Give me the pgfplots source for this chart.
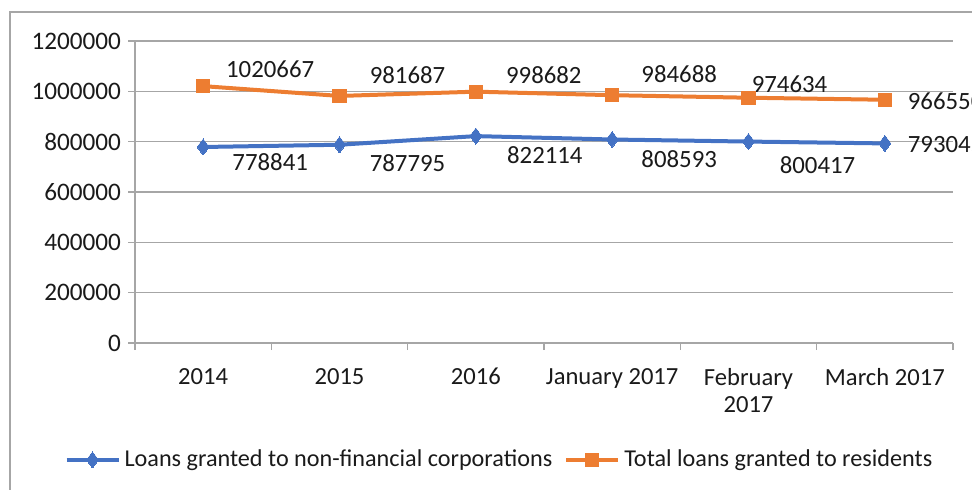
\documentclass[border=0pt]{standalone}
\usepackage{fontspec}
\setmainfont{Carlito}
\usepackage{pgfplots}
\pgfplotsset{compat=1.18}
\definecolor{xlblue}{HTML}{4472C4}
\definecolor{xlorange}{HTML}{ED7D31}
\definecolor{gridgray}{HTML}{A6A6A6}
\definecolor{txt}{HTML}{1A1A1A}

\begin{document}
\begin{tikzpicture}
\useasboundingbox (0,0) rectangle (486pt,244.5pt);
% chart frame (cut off at right and bottom like the reference)
\draw[gridgray, line width=0.8pt] (5pt,-10pt) -- (5pt,238.5pt) -- (500pt,238.5pt);
\begin{axis}[
  at={(67.5pt,73pt)}, anchor=south west,
  scale only axis,
  width=409pt, height=151pt,
  xmin=-0.5, xmax=5.5,
  ymin=0, ymax=1200000,
  xtick={0,...,5},
  xticklabels={2014,2015,2016,January 2017,{February\\2017},March 2017},
  xticklabel style={align=center, font=\fontsize{12.3}{13.5}\selectfont, text=txt, yshift=-5.5pt},
  minor xtick={-0.5,0.5,...,5.5},
  ytick={0,200000,...,1200000},
  yticklabel style={font=\fontsize{12.6}{13}\selectfont, text=txt},
  scaled y ticks=false,
  /pgf/number format/.cd, fixed, 1000 sep={}, assume math mode=true,
  /pgfplots/.cd,
  axis lines*=left,
  axis line style={gridgray, line width=0.8pt},
  tick align=outside,
  major x tick style={draw=none},
  minor x tick style={gridgray, line width=0.8pt},
  major y tick style={gridgray, line width=0.8pt},
  major tick length=3.5pt, minor tick length=3.5pt,
  ymajorgrids,
  grid style={gridgray, line width=0.8pt},
  legend columns=2,
  legend style={draw=none, fill=none, at={(-0.094,-0.387)}, anchor=west,
    font=\fontsize{12.1}{13}\selectfont, text=txt,
    /tikz/every even column/.append style={column sep=4pt}},
  legend image code/.code={\draw[mark repeat=2, mark phase=2, #1] plot coordinates {(0pt,0pt) (13pt,0pt) (26pt,0pt)};},
  clip=false,
]
\addplot[xlblue, line width=2pt, mark=diamond*, mark size=4pt, mark options={fill=xlblue, draw=xlblue, line width=0pt}]
  coordinates {(0,778841) (1,787795) (2,822114) (3,808593) (4,800417) (5,793045)};
\addlegendentry{Loans granted to non-financial corporations}
\addplot[xlorange, line width=2pt, mark=square*, mark size=3.3pt, mark options={fill=xlorange, draw=xlorange, line width=0pt}]
  coordinates {(0,1020667) (1,981687) (2,998682) (3,984688) (4,974634) (5,966550)};
\addlegendentry{Total loans granted to residents}
% data labels
\begin{scope}[every node/.style={font=\fontsize{12.4}{13}\selectfont, text=txt}]
\node at (axis cs:0,1020667) [xshift=33.5pt, yshift=8.5pt] {1020667};
\node at (axis cs:1,981687)  [xshift=34pt, yshift=10.5pt] {981687};
\node at (axis cs:2,998682)  [xshift=34pt, yshift=8.5pt] {998682};
\node at (axis cs:3,984688)  [xshift=33.5pt, yshift=10.5pt] {984688};
\node at (axis cs:4,974634)  [xshift=20.5pt, yshift=7pt] {974634};
\node[anchor=west] at (axis cs:5,966550) [xshift=8pt, yshift=-0.5pt] {966550};
\node at (axis cs:0,778841) [xshift=33.5pt, yshift=-7.5pt] {778841};
\node at (axis cs:1,787795) [xshift=34pt, yshift=-9pt] {787795};
\node at (axis cs:2,822114) [xshift=34.5pt, yshift=-9.5pt] {822114};
\node at (axis cs:3,808593) [xshift=33.5pt, yshift=-10pt] {808593};
\node at (axis cs:4,800417) [xshift=34.5pt, yshift=-12pt] {800417};
\node[anchor=west] at (axis cs:5,793045) [xshift=8pt, yshift=-0.5pt] {793045};
\end{scope}
\end{axis}
\end{tikzpicture}
\end{document}
